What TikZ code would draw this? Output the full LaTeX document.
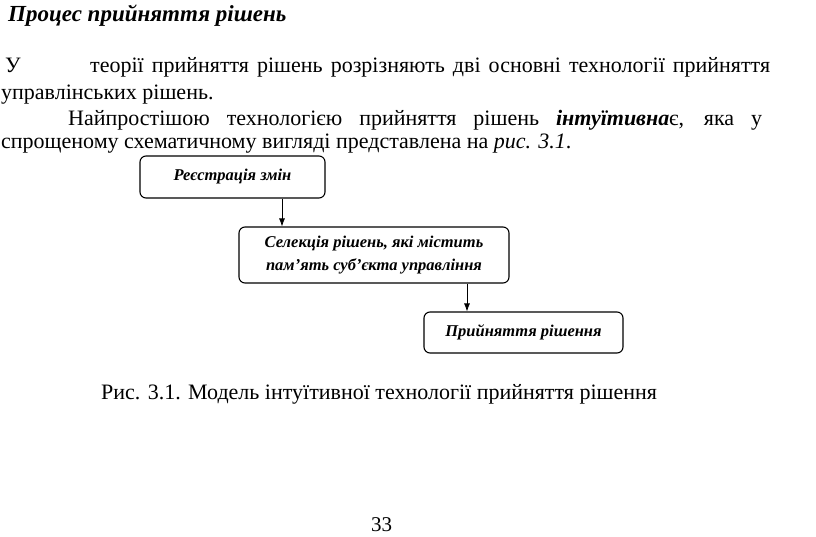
\documentclass[tikz,border=0pt]{standalone}
\usepackage{fontspec}
\setmainfont{Liberation Serif}
\usetikzlibrary{positioning, arrows.meta}

\begin{document}
\begin{tikzpicture}[x=1pt, y=-1pt,
    line/.style={anchor=base west, inner sep=0pt, font=\fontsize{22}{25}\selectfont},
    stage/.style={draw, rounded corners=6pt, line width=1.1pt, inner sep=0pt,
        align=center, font=\fontsize{16.5}{23}\selectfont\bfseries\itshape},
    arr/.style={-{Latex[length=8pt, width=6pt]}, line width=0.8pt}]
    \useasboundingbox (0,0) rectangle (816,537);
    % text above the scheme
    \node[line, font=\fontsize{23}{25}\selectfont\bfseries\itshape] (title) at (8,22) {Процес прийняття рішень};
    \node[line] (l1a) at (5,73) {У};
    \node[line] (l1b) at (90,73) {\makebox[680pt][s]{теорії прийняття рішень розрізняють дві основні технології прийняття}};
    \node[line] (l2) at (1,100) {управлінських рішень.};
    \node[line] (l3) at (68,126) {\makebox[694pt][s]{Найпростішою технологією прийняття рішень \textbf{\textit{інтуїтивна}}є, яка у}};
    \node[line] (l4) at (1,149) {спрощеному схематичному вигляді представлена на \textit{рис. 3.1}.};
    % scheme
    \node[stage, minimum width=185pt, minimum height=42pt] (reg) at (232.5,177) {Реєстрація змін};
    \node[stage, minimum width=270pt, minimum height=56pt] (sel) at (374,255) {Селекція рішень, які містить\\пам'ять суб'єкта управління};
    \node[stage, minimum width=199pt, minimum height=41pt] (dec) at (523.5,332.5) {Прийняття рішення};
    \draw[arr] ([xshift=49.5pt]reg.south) -- ([xshift=49.5pt]reg.south |- sel.north);
    \draw[arr] ([xshift=93pt]sel.south) -- ([xshift=93pt]sel.south |- dec.north);
    % caption and page number
    \node[line] (cap) at (101,399) {Рис. 3.1. Модель інтуїтивної технології прийняття рішення};
    \node[line, font=\fontsize{21}{24}\selectfont] (page) at (371,531) {33};
\end{tikzpicture}
\end{document}
